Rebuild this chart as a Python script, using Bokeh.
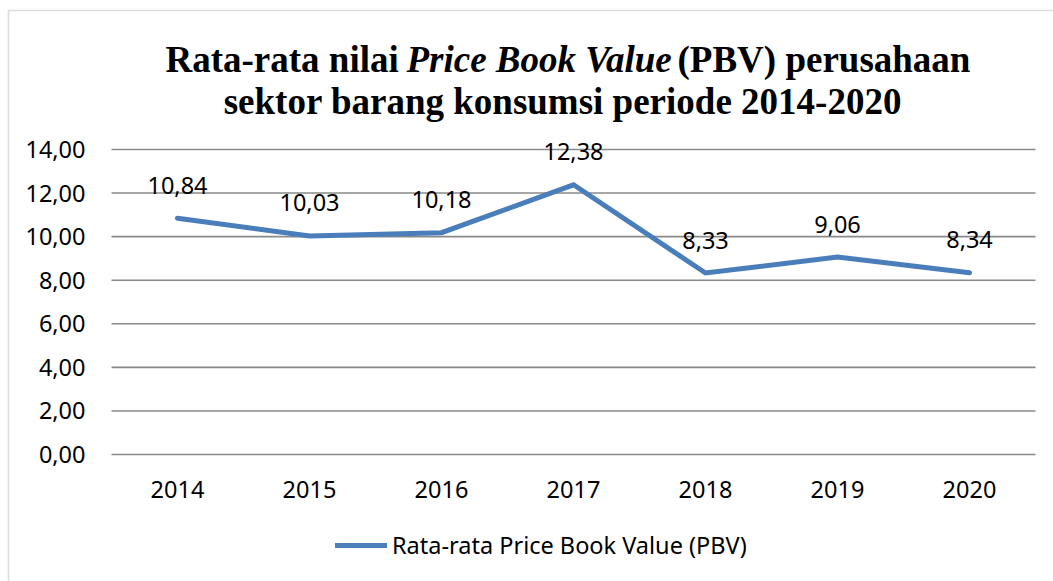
from bokeh.plotting import figure
from bokeh.models import Range1d, BoxAnnotation, Legend, LegendItem, ColumnDataSource, Label
from bokeh.core.properties import value
from bokeh.embed import file_html
from bokeh.resources import INLINE

years = ["2014", "2015", "2016", "2017", "2018", "2019", "2020"]
pbv = [10.84, 10.03, 10.18, 12.38, 8.33, 9.06, 8.34]
pbv_labels = ["10,84", "10,03", "10,18", "12,38", "8,33", "9,06", "8,34"]
y_ticks = [0, 2, 4, 6, 8, 10, 12, 14]
y_tick_labels = ["0,00", "2,00", "4,00", "6,00", "8,00", "10,00", "12,00", "14,00"]
series_name = "Rata-rata Price Book Value (PBV)"
title_a = "Rata-rata nilai"
title_b = "Price Book Value"
title_c = "(PBV) perusahaan"
title_2 = "sektor barang konsumsi  periode 2014-2020"

LINE = "#4A7EBB"
GRID = "#8A8A8A"
FONT = "Noto Sans"
SERIF = "Liberation Serif"
FS = "23.5px"
TFS = "37px"

# canvas geometry (pixels)
W, H = 1053, 581
PL, PR, PT, PB = 111, 1035, 149, 454
n = len(years)
xpx = (PR - PL) / n
ypx = (PB - PT) / (y_ticks[-1] - y_ticks[0])


def X(px):
    return (px - PL) / xpx


def Y(py):
    return (PB - py) / ypx


p = figure(width=W, height=H, x_range=Range1d(X(0), X(W)), y_range=Range1d(Y(H), Y(0)),
           output_backend="svg", toolbar_location=None,
           min_border=0, min_border_left=0, min_border_right=0, min_border_top=0, min_border_bottom=0)
p.outline_line_color = None
p.background_fill_color = "white"
p.border_fill_color = "white"
p.xaxis.visible = False
p.yaxis.visible = False
p.grid.visible = False

xs = [i + 0.5 for i in range(n)]

# horizontal gridlines
p.segment(x0=[0] * len(y_ticks), x1=[n] * len(y_ticks), y0=y_ticks, y1=y_ticks,
          line_color=GRID, line_width=1.6)

# y tick labels
p.text(x=[X(85)] * len(y_ticks), y=y_ticks, text=y_tick_labels,
       text_align="right", text_baseline="middle", text_font=value(FONT),
       text_font_size=FS, text_color="black")
# x tick labels
p.text(x=xs, y=[Y(488.5)] * n, text=years, text_align="center", text_baseline="middle",
       text_font=value(FONT), text_font_size=FS, text_color="black")

src = ColumnDataSource(dict(x=xs, y=pbv, t=pbv_labels, ly=[v + 33 / ypx for v in pbv]))
r = p.line("x", "y", source=src, line_color=LINE, line_width=5, line_cap="round", line_join="miter")
p.text(x="x", y="ly", text="t", source=src, text_align="center", text_baseline="middle",
       text_font=value(FONT), text_font_size=FS, text_color="black")

legend = Legend(items=[LegendItem(label=series_name, renderers=[r])], location=(335, 20),
                orientation="horizontal", glyph_width=52, glyph_height=20, label_height=20,
                label_standoff=5, padding=0, margin=0, border_line_color=None,
                background_fill_alpha=0, label_text_font=FONT, label_text_font_size=FS,
                label_text_color="black")
p.add_layout(legend)

for txt, xp, style in [(title_a, 165, "bold"), (title_b, 406, "bold italic"), (title_c, 677, "bold")]:
    p.add_layout(Label(x=X(xp), y=Y(58.5), text=txt, text_font=SERIF, text_font_style=style,
                       text_font_size=TFS, text_baseline="middle", text_align="left",
                       text_color="black"))
p.add_layout(Label(x=X(567), y=Y(100.5), text=title_2, text_font=SERIF, text_font_style="bold",
                   text_font_size=TFS, text_baseline="middle", text_align="center",
                   text_color="black"))

p.add_layout(BoxAnnotation(left=X(8), right=X(1200), top=Y(10), bottom=Y(800),
                           fill_alpha=0, line_color="#8F8F8F", line_width=1.6))

open("out.html", "w").write(file_html(p, INLINE))
